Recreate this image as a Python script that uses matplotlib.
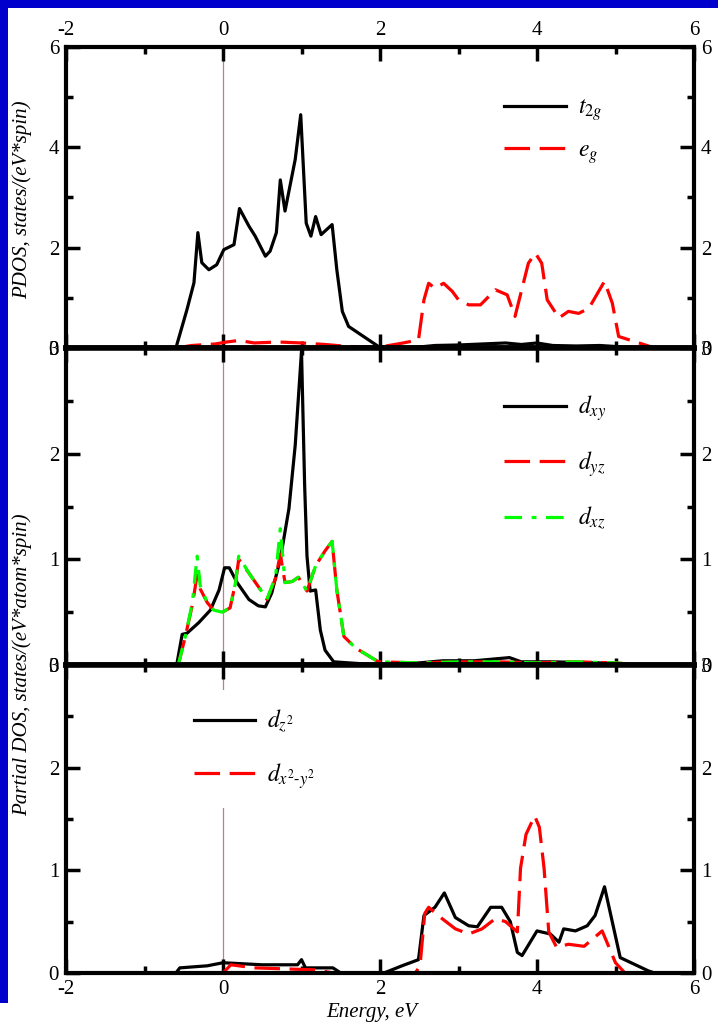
import matplotlib
matplotlib.use("Agg")
import matplotlib.pyplot as plt
from matplotlib.patches import Rectangle
from matplotlib.ticker import MultipleLocator

plt.rcParams['font.family'] = ['Liberation Serif', 'DejaVu Serif']
plt.rcParams['mathtext.fontset'] = 'stix'
plt.rcParams['axes.unicode_minus'] = False

# t2g / eg projected DOS
t2g_e = [-0.6, -0.46, -0.37, -0.32, -0.27, -0.18, -0.08, 0.01, 0.14, 0.21, 0.33, 0.41,
         0.54, 0.60, 0.68, 0.73, 0.79, 0.92, 0.99, 1.06, 1.12, 1.18, 1.25, 1.39, 1.45,
         1.52, 1.60, 1.98, 2.3, 2.5, 2.7, 3.0, 3.3, 3.6, 3.8, 4.0, 4.2, 4.5, 4.8, 5.1, 5.4]
t2g_v = [0, 0.76, 1.3, 2.3, 1.7, 1.56, 1.66, 1.96, 2.06, 2.78, 2.43, 2.23,
         1.83, 1.93, 2.3, 3.35, 2.73, 3.76, 4.65, 2.49, 2.23, 2.62, 2.26, 2.46, 1.56,
         0.73, 0.43, 0.03, 0.0, 0.02, 0.05, 0.06, 0.08, 0.1, 0.07, 0.1, 0.05, 0.04, 0.05, 0.02, 0.0]

eg_e = [-0.6, -0.4, -0.1, 0.05, 0.2, 0.4, 0.7, 1.0, 1.3, 1.6, 2.0, 2.26, 2.49, 2.56, 2.62,
        2.70, 2.81, 2.92, 3.0, 3.13, 3.28, 3.47, 3.62, 3.72, 3.81, 3.89, 3.98, 4.06, 4.13,
        4.28, 4.40, 4.53, 4.66, 4.76, 4.86, 4.96, 5.04, 5.34, 5.5]
eg_v = [0, 0.05, 0.08, 0.12, 0.15, 0.1, 0.12, 0.1, 0.07, 0.03, 0.02, 0.09, 0.16, 0.96, 1.29,
        1.19, 1.29, 1.13, 0.96, 0.86, 0.86, 1.16, 1.06, 0.63, 1.19, 1.69, 1.89, 1.69, 0.96,
        0.6, 0.73, 0.69, 0.79, 1.06, 1.33, 0.89, 0.23, 0.08, 0]

# t2g orbitals resolved
dxy_e = [-0.59, -0.52, -0.46, -0.31, -0.16, -0.05, 0.02, 0.08, 0.18, 0.33, 0.45, 0.54, 0.62,
         0.73, 0.84, 0.92, 1.0, 1.04, 1.07, 1.11, 1.18, 1.24, 1.30, 1.41, 2.0, 2.5, 2.8, 3.2,
         3.5, 3.65, 3.8, 4.2, 4.8, 5.3]
dxy_v = [0, 0.29, 0.30, 0.40, 0.52, 0.71, 0.92, 0.92, 0.78, 0.62, 0.56, 0.55, 0.68,
         1.0, 1.48, 2.08, 2.97, 1.70, 1.03, 0.70, 0.71, 0.33, 0.14, 0.03, 0, 0.02, 0.04, 0.04,
         0.06, 0.07, 0.03, 0.03, 0.02, 0]

dyz_e = [-0.57, -0.48, -0.39, -0.33, -0.29, -0.20, -0.12, -0.01, 0.09, 0.16, 0.20, 0.33, 0.48,
         0.56, 0.67, 0.73, 0.79, 0.88, 0.96, 1.07, 1.18, 1.30, 1.39, 1.45, 1.54, 1.69, 1.98,
         2.5, 3.0, 3.5, 4.0, 4.5, 5.0, 5.3]
dyz_v = [0, 0.27, 0.57, 0.85, 0.72, 0.59, 0.52, 0.50, 0.54, 0.78, 1.0, 0.87, 0.71,
         0.62, 0.82, 1.05, 0.78, 0.79, 0.83, 0.70, 0.94, 1.08, 1.17, 0.71, 0.27, 0.16, 0.03,
         0.02, 0.03, 0.03, 0.02, 0.03, 0.02, 0]

dxz_e = dyz_e
dxz_v = [0, 0.27, 0.59, 1.03, 0.75, 0.59, 0.52, 0.50, 0.54, 0.78, 1.03, 0.87, 0.71,
         0.62, 0.84, 1.29, 0.78, 0.79, 0.83, 0.70, 0.94, 1.08, 1.17, 0.71, 0.27, 0.16, 0.03,
         0.02, 0.03, 0.03, 0.02, 0.03, 0.02, 0]

# eg orbitals resolved
dz2_e = [-0.6, -0.55, -0.2, 0.0, 0.5, 0.95, 1.0, 1.05, 1.4, 1.5, 2.05, 2.28, 2.49, 2.56, 2.70,
         2.82, 2.96, 3.13, 3.24, 3.41, 3.55, 3.66, 3.75, 3.81, 4.00, 4.17, 4.28, 4.34, 4.49,
         4.64, 4.74, 4.86, 5.06, 5.42, 5.5]
dz2_v = [0, 0.05, 0.07, 0.1, 0.08, 0.08, 0.13, 0.05, 0.05, 0, 0, 0.07, 0.13, 0.56, 0.64,
         0.78, 0.54, 0.46, 0.45, 0.64, 0.64, 0.50, 0.20, 0.17, 0.41, 0.38, 0.30, 0.43, 0.41,
         0.46, 0.56, 0.84, 0.15, 0.02, 0]

dx2y2_e = [0.0, 0.1, 0.4, 0.8, 1.2, 1.4, 2.45, 2.51, 2.57, 2.62, 2.79, 2.96, 3.13, 3.30, 3.47,
           3.60, 3.75, 3.79, 3.86, 3.97, 4.03, 4.09, 4.15, 4.25, 4.40, 4.60, 4.83, 5.00, 5.12]
dx2y2_v = [0, 0.08, 0.05, 0.04, 0.03, 0, 0, 0.07, 0.58, 0.64, 0.53, 0.43, 0.38, 0.43, 0.53,
           0.50, 0.40, 1.02, 1.35, 1.53, 1.42, 1.02, 0.40, 0.25, 0.28, 0.26, 0.41, 0.10, 0]

W, H = 718, 1031
fig = plt.figure(figsize=(W / 100, H / 100), dpi=100, facecolor='white')

# blue slide frame
fig.patches.append(Rectangle((0, 1 - 8 / H), 1, 8 / H, transform=fig.transFigure,
                             facecolor='#0000CC', edgecolor='none', zorder=0))
fig.patches.append(Rectangle((0, (H - 1003) / H), 8 / W, 1003 / H, transform=fig.transFigure,
                             facecolor='#0000CC', edgecolor='none', zorder=0))


def px_axes(top, bottom, left=66, right=694):
    return [left / W, (H - bottom) / H, (right - left) / W, (bottom - top) / H]


ax1 = fig.add_axes(px_axes(47, 348))
ax2 = fig.add_axes(px_axes(348, 665))
ax3 = fig.add_axes(px_axes(665, 973))

red_dash = (8, 3)
green_dashdot = (5.5, 3, 1.5, 3)
lw = 2.3

ax1.plot(t2g_e, t2g_v, color='black', lw=lw, label=r'$t_{2g}$')
ax1.plot(eg_e, eg_v, color='red', lw=lw, dashes=red_dash, label=r'$e_g$')

ax2.plot(dxy_e, dxy_v, color='black', lw=lw, label=r'$d_{xy}$')
ax2.plot(dyz_e, dyz_v, color='red', lw=lw, dashes=red_dash, label=r'$d_{yz}$')
ax2.plot(dxz_e, dxz_v, color='#00FF00', lw=lw, dashes=green_dashdot, label=r'$d_{xz}$')

ax3.plot(dz2_e, dz2_v, color='black', lw=lw, label=r'$d_{z^2}$')
ax3.plot(dx2y2_e, dx2y2_v, color='red', lw=lw, dashes=red_dash, label=r'$d_{x^2\text{-}y^2}$')

for ax, ymax, ystep in [(ax1, 6, 2), (ax2, 3, 1), (ax3, 3, 1)]:
    ax.axvline(0, color='#C08080', lw=0.9, zorder=1)
    ax.set_xlim(-2, 6)
    ax.set_ylim(0, ymax)
    ax.xaxis.set_major_locator(MultipleLocator(2))
    ax.xaxis.set_minor_locator(MultipleLocator(1))
    ax.yaxis.set_major_locator(MultipleLocator(ystep))
    ax.yaxis.set_minor_locator(MultipleLocator(ystep / 2))
    ax.tick_params(which='both', direction='in', top=True, right=True,
                   labelleft=True, labelright=True, labelbottom=False, labeltop=False,
                   labelsize=15, width=2.5)
    ax.tick_params(which='major', length=10, pad=5)
    ax.tick_params(which='minor', length=5)
    for sp in ax.spines.values():
        sp.set_linewidth(3)

ax1.tick_params(labeltop=True)
ax3.tick_params(labelbottom=True)
ax1.spines['bottom'].set_linewidth(4)
ax2.spines['top'].set_linewidth(4)
ax2.spines['bottom'].set_linewidth(4)
ax3.spines['top'].set_linewidth(4)

leg_kw = dict(fontsize=17, handlelength=2.6, handletextpad=0.5, borderaxespad=0)
ax1.legend(loc='upper left', bbox_to_anchor=((495 - 66) / 628, (348 - 88) / 301),
           frameon=False, labelspacing=0.7, **leg_kw)
ax2.legend(loc='upper left', bbox_to_anchor=((495 - 66) / 628, (665 - 384) / 317),
           frameon=False, labelspacing=1.1, **leg_kw)
ax3.legend(loc='upper left', bbox_to_anchor=((176 - 66) / 628, (973 - 690) / 308),
           frameon=True, facecolor='white', edgecolor='none', framealpha=1,
           fancybox=False, borderpad=0.75, labelspacing=1.1, **leg_kw)

label_font = dict(fontsize=15, style='italic', rotation=90, ha='center', va='center')
fig.text(22 / W, 1 - 200 / H, 'PDOS, states/(eV*spin)', **label_font)
fig.text(22 / W, 1 - 665 / H, 'Partial DOS, states/(eV*atom*spin)', **label_font)
fig.text(372 / W, 1 - 1012 / H, 'Energy, eV', fontsize=15, style='italic',
         ha='center', va='center')

fig.savefig('out.png', dpi=100, facecolor=fig.get_facecolor())
